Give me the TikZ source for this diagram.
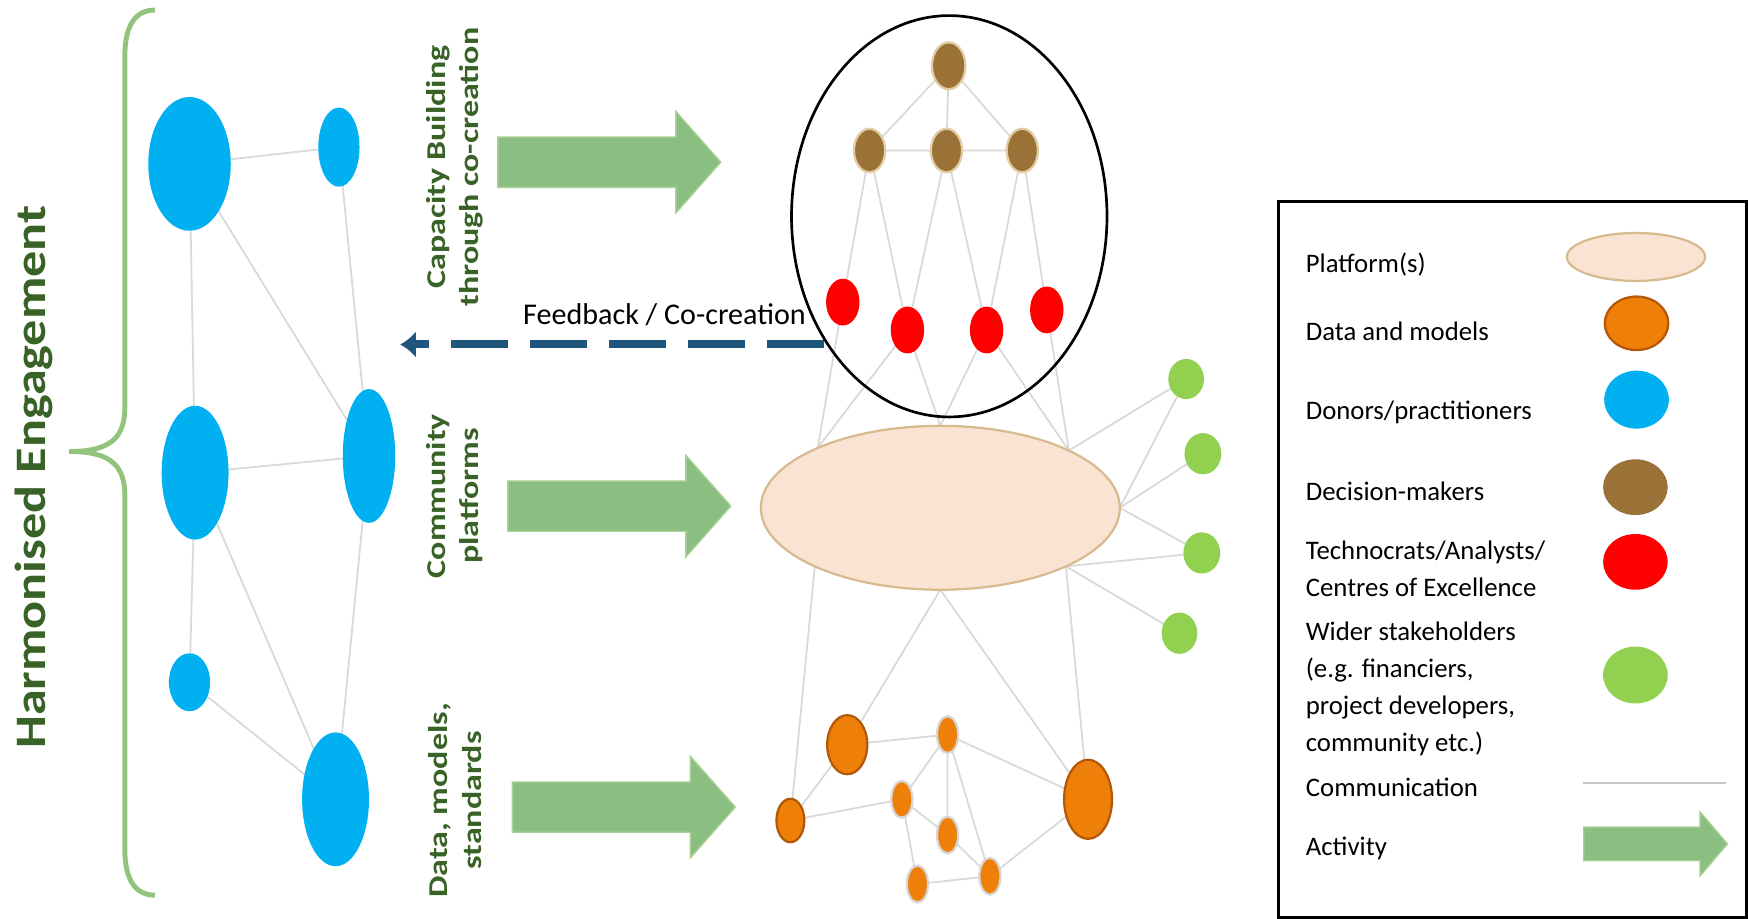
\documentclass[tikz,border=0pt]{standalone}
\usepackage{fontspec}
\setmainfont{Carlito}
\newfontfamily\harmfont[FakeStretch=1.2]{Carlito}
\newfontfamily\labelfont[FakeStretch=1.25]{Carlito}
\usetikzlibrary{shapes.geometric}
\usetikzlibrary{shapes.arrows}
\usetikzlibrary{arrows.meta}
\usetikzlibrary{backgrounds}
\definecolor{donorColor}{RGB}{0,176,240}
\definecolor{deciderColor}{RGB}{154,114,56}
\definecolor{deciderRim}{RGB}{226,204,166}
\definecolor{technoColor}{RGB}{255,0,0}
\definecolor{widerColor}{RGB}{146,208,80}
\definecolor{dataColor}{RGB}{238,128,10}
\definecolor{dataRim}{RGB}{178,88,6}
\definecolor{dataRimLight}{RGB}{214,214,214}
\definecolor{platColor}{RGB}{250,227,210}
\definecolor{platRim}{RGB}{215,186,142}
\definecolor{commColor}{RGB}{217,217,217}
\definecolor{actColor}{RGB}{139,191,129}
\definecolor{actRim}{RGB}{170,210,150}
\definecolor{fbColor}{RGB}{31,86,124}
\definecolor{labelColor}{RGB}{56,98,38}
\definecolor{braceColor}{RGB}{147,196,125}
\tikzset{
  sz/.style 2 args={minimum width=#1*0.5pt, minimum height=#2*0.5pt},
  blob/.style={ellipse, inner sep=0pt, outer sep=0pt},
  donor/.style={blob, fill=donorColor},
  decider/.style={blob, fill=deciderColor, draw=deciderRim, line width=1pt},
  techno/.style={blob, fill=technoColor},
  wider/.style={blob, fill=widerColor},
  datadark/.style={blob, fill=dataColor, draw=dataRim, line width=1pt},
  datalight/.style={blob, fill=dataColor, draw=dataRimLight, line width=1pt},
  platform/.style={blob, fill=platColor, draw=platRim, line width=1pt},
  comm/.style={draw=commColor, line width=0.8pt},
  activity/.style={single arrow, anchor=tail, fill=actColor, draw=actRim, line width=0.6pt,
    inner xsep=0pt, inner ysep=11pt, single arrow head indent=0pt, minimum height=100pt,
    minimum width=45pt, single arrow head extend=11.5pt, single arrow tip angle=97},
  actlabel/.style={rotate=90, align=center, inner sep=0pt, text=labelColor,
    font=\labelfont\fontsize{12.2}{15}\selectfont\bfseries},
  legendtext/.style={anchor=west, align=left, inner sep=0pt, font=\fontsize{12}{16.5}\selectfont},
  feedback/.style={draw=fbColor, line width=3.6pt, dash pattern=on 25.5pt off 10pt,
    -{Latex[length=7pt,width=12pt]}},
  bracestroke/.style={draw=braceColor, line width=2.2pt}
}

\begin{document}
\begin{tikzpicture}[x=0.5pt, y=-0.5pt]
\useasboundingbox (0,0) rectangle (1568,824);

% left brace and title
\draw[bracestroke] (139,9) .. controls (122,9) and (112,22) .. (112,50) -- (112,365)
  .. controls (112,392) and (100,405) .. (62,405)
  .. controls (100,405) and (112,418) .. (112,445) -- (112,762)
  .. controls (112,790) and (122,803) .. (139,803);
\node[rotate=90, inner sep=0pt, text=labelColor, font=\harmfont\fontsize{19.5}{23}\selectfont\bfseries]
  (harm) at (30,428) {Harmonised Engagement};

% donors / practitioners
\begin{scope}
  \node[donor, sz={74}{120}] (don1) at (170,147) {};
  \node[donor, sz={37}{71}]  (don2) at (304,132) {};
  \node[donor, sz={60}{120}] (don3) at (175,424) {};
  \node[donor, sz={47}{120}] (don4) at (331,409) {};
  \node[donor, sz={37}{52}]  (don5) at (170,612) {};
  \node[donor, sz={60}{120}] (don6) at (301,717) {};
\end{scope}

% activities
\node[actlabel] (lblcap) at (408,150) {Capacity Building\\through co-creation};
\node[actlabel] (lblcom) at (408,445) {Community\\platforms};
\node[actlabel] (lbldat) at (408,718) {Data, models,\\standards};
\node[activity] (act1) at (446,145.5) {};
\node[activity] (act2) at (455,454) {};
\node[activity] (act3) at (459,724) {};

% decision-makers and technocrats
\begin{scope}
  \node[draw=black, ellipse, line width=1.2pt, sz={283}{360}] (bigcirc) at (851.5,194) {};
  \node[decider, sz={30}{42}] (dm0) at (851,59) {};
  \node[decider, sz={28}{39}] (dm1) at (780,135) {};
  \node[decider, sz={28}{39}] (dm2) at (849,135) {};
  \node[decider, sz={28}{39}] (dm3) at (917,135) {};
  \node[techno, sz={30}{42}] (te1) at (756,271) {};
  \node[techno, sz={30}{42}] (te2) at (814,296) {};
  \node[techno, sz={30}{42}] (te3) at (885,296) {};
  \node[techno, sz={30}{42}] (te4) at (939,278) {};
\end{scope}

% feedback
\coordinate (fbtip) at (359,309);
\draw[feedback] (bigcirc.225 |- fbtip) -- (fbtip);
\node[anchor=base, inner sep=0pt, font=\fontsize{13.5}{16}\selectfont] (fblabel) at (596,291.5) {Feedback / Co-creation};

% platform and wider stakeholders
\node[platform, sz={322}{147}] (plat) at (843.5,455.5) {};
\node[wider, sz={32}{36}] (ws1) at (1064,340) {};
\node[wider, sz={33}{37}] (ws2) at (1079,407) {};
\node[wider, sz={33}{37}] (ws3) at (1078,496) {};
\node[wider, sz={32}{37}] (ws4) at (1058,568) {};

% data and models
\begin{scope}
  \node[datadark, sz={36}{53}]  (dat1) at (760,668) {};
  \node[datalight, sz={19}{33}] (dat2) at (850,659) {};
  \node[datadark, sz={25}{39}]  (dat3) at (709,736) {};
  \node[datalight, sz={19}{33}] (dat4) at (809,717) {};
  \node[datalight, sz={19}{33}] (dat5) at (850,749) {};
  \node[datalight, sz={19}{33}] (dat6) at (823,793) {};
  \node[datalight, sz={19}{33}] (dat7) at (888,786) {};
  \node[datadark, sz={43}{71}]  (dat8) at (976,717) {};
\end{scope}

\begin{scope}[on background layer]
  \draw[comm] (don1) -- (don2) (don1) -- (don3) (don1) -- (don4) (don2) -- (don4)
    (don3) -- (don4) (don3) -- (don5) (don3) -- (don6) (don4) -- (don6) (don5) -- (don6);
  \draw[comm] (dm0) -- (dm1) (dm0) -- (dm2) (dm0) -- (dm3) (dm1) -- (dm2) (dm2) -- (dm3);
  \draw[comm] (dm1) -- (te1) (dm1) -- (te2) (dm2) -- (te2) (dm2) -- (te3) (dm3) -- (te3) (dm3) -- (te4);
  \draw[comm] (te1) -- (plat.154) (te2) -- (plat.154) (te2) -- (plat.90)
    (te3) -- (plat.90) (te3) -- (plat.24) (te4) -- (plat.24);
  \draw[comm] (plat.24) -- (ws1) (plat.0) -- (ws1) (plat.0) -- (ws2) (plat.0) -- (ws3)
    (plat.-25) -- (ws3) (plat.-25) -- (ws4);
  \draw[comm] (plat.205) -- (dat3) (plat.-90) -- (dat1) (plat.-90) -- (dat8) (plat.-25) -- (dat8);
  \draw[comm] (dat1) -- (dat2) (dat1) -- (dat3) (dat3) -- (dat4) (dat2) -- (dat4) (dat2) -- (dat5)
    (dat2) -- (dat7) (dat2) -- (dat8) (dat4) -- (dat5) (dat4) -- (dat6) (dat5) -- (dat7)
    (dat6) -- (dat7) (dat7) -- (dat8);
\end{scope}

% legend
\draw[line width=1.2pt] (1147,181) rectangle (1566.5,823);
\node[legendtext] (lgt1) at (1171,237) {Platform(s)};
\node[legendtext] (lgt2) at (1171,297) {Data and models};
\node[legendtext] (lgt3) at (1171,370) {Donors/practitioners};
\node[legendtext] (lgt4) at (1171,441) {Decision-makers};
\node[legendtext] (lgt5) at (1171,510) {Technocrats/Analysts/\\Centres of Excellence};
\node[legendtext] (lgt6) at (1171,618) {Wider stakeholders\\(e.g. financiers,\\project developers,\\community etc.)};
\node[legendtext] (lgt7) at (1171,706) {Communication};
\node[legendtext] (lgt8) at (1171,761) {Activity};
\node[platform, sz={124}{43}] (lgplat) at (1467.5,230.5) {};
\node[datadark, sz={57}{48}] (lgdata) at (1468,290) {};
\node[donor, sz={58}{52}] (lgdonor) at (1468,358.5) {};
\node[decider, draw=none, sz={58}{50}] (lgdecide) at (1467,437) {};
\node[techno, sz={58}{50}] (lgtech) at (1467,504) {};
\node[wider, sz={58}{51}] (lgwider) at (1467,605.5) {};
\coordinate (lgcomA) at (1420,702.5);
\coordinate (lgcomB) at (1548,702.5);
\draw[comm, draw=gray!45, line width=0.6pt] (lgcomA) -- (lgcomB);
\node[activity, inner ysep=7.25pt, minimum height=64.5pt, minimum width=28.3pt,
  single arrow head extend=6.9pt, single arrow tip angle=99] (lgact) at (1420,757) {};
\end{tikzpicture}
\end{document}
